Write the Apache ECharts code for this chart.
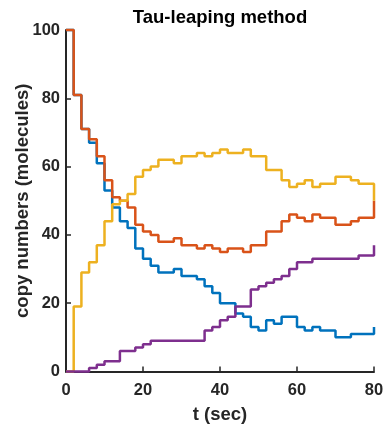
<!DOCTYPE html>
<html>
<head>
<meta charset="utf-8">
<style>
  html, body { margin: 0; padding: 0; background: #ffffff; }
  #chart { width: 384px; height: 424px; }
</style>
<script src="https://cdn.jsdelivr.net/npm/echarts@6/dist/echarts.min.js"></script>
</head>
<body>
<div id="chart"></div>
<script>
// Time points (sec); each value holds from its time until the next one
const times = [0,2,4,6,8,10,12,14,16,18,20,22,24,26,28,30,32,34,36,38,40,42,44,46,48,50,52,54,56,58,60,62,64,66,68,70,72,74,76,78,80];

const blueSeries = [100,81,71,67,61,53,48,44,42,36,33,31,29,29,30,28,28,27,25,23,20,20,17,16,13,12,15,14,16,16,13,12,13,12,12,10,10,11,11,11,13];
const redSeries = [100,81,71,68,63,56,51,50,48,43,41,40,38,38,39,37,37,36,37,36,35,36,36,35,37,37,41,41,44,46,45,44,46,45,45,43,43,44,45,45,50];
const yellowSeries = [0,19,29,32,37,44,49,50,52,57,59,60,62,62,61,63,63,64,63,64,65,64,64,65,63,63,59,59,56,54,55,56,54,55,55,57,57,56,55,55,50];
const purpleSeries = [0,0,0,1,2,3,3,6,6,7,8,9,9,9,9,9,9,9,12,13,15,16,19,19,24,25,26,27,28,30,32,32,33,33,33,33,33,33,34,34,37];

const xTicks = [0, 20, 40, 60, 80];
const yTicks = [0, 20, 40, 60, 80, 100];

const titleText = 'Tau-leaping method';
const xLabel = 't (sec)';
const yLabel = 'copy numbers (molecules)';

const FONT = '"Liberation Sans", Arial, Helvetica, sans-serif';
const AX = '#262626';

function pairs(vals) { return times.map((t, i) => [t, vals[i]]); }

const colors = ['#0072BD', '#D95319', '#EDB120', '#7E2F8E'];
const allSeries = [blueSeries, redSeries, yellowSeries, purpleSeries];

const chart = echarts.init(document.getElementById('chart'), null, { renderer: 'canvas' });
chart.setOption({
  animation: false,
  backgroundColor: '#ffffff',
  title: {
    text: titleText,
    left: 215,
    top: 3,
    textAlign: 'center',
    textStyle: { fontFamily: FONT, fontWeight: 'bold', fontSize: 18.5, color: '#000000' }
  },
  grid: { left: 66, right: 10, top: 30, bottom: 52.5, containLabel: false, outerBoundsMode: 'none' },
  xAxis: {
    type: 'value',
    min: xTicks[0],
    max: xTicks[xTicks.length - 1],
    interval: xTicks[1] - xTicks[0],
    name: xLabel,
    nameLocation: 'middle',
    nameGap: 34,
    nameTextStyle: { fontFamily: FONT, fontWeight: 'bold', fontSize: 18.5, color: AX },
    axisLine: { show: true, lineStyle: { color: AX, width: 2 } },
    axisTick: { show: true, inside: true, length: 5, lineStyle: { color: AX, width: 1.5 } },
    axisLabel: { fontFamily: FONT, fontWeight: 'bold', fontSize: 16.5, color: AX, margin: 10 },
    splitLine: { show: false }
  },
  yAxis: {
    type: 'value',
    min: yTicks[0],
    max: yTicks[yTicks.length - 1],
    interval: yTicks[1] - yTicks[0],
    name: yLabel,
    nameLocation: 'middle',
    nameGap: 34,
    nameMoveOverlap: false,
    nameTextStyle: { fontFamily: FONT, fontWeight: 'bold', fontSize: 18.5, color: AX },
    axisLine: { show: true, lineStyle: { color: AX, width: 2 } },
    axisTick: { show: true, inside: true, length: 5, lineStyle: { color: AX, width: 1.5 } },
    axisLabel: { fontFamily: FONT, fontWeight: 'bold', fontSize: 16.5, color: AX, margin: 6 },
    splitLine: { show: false }
  },
  series: allSeries.map((vals, i) => ({
    type: 'line',
    step: 'end',
    data: pairs(vals),
    showSymbol: false,
    clip: false,
    lineStyle: { color: colors[i], width: 2.5 },
    itemStyle: { color: colors[i] },
    z: 2 + i
  }))
});
</script>
</body>
</html>
